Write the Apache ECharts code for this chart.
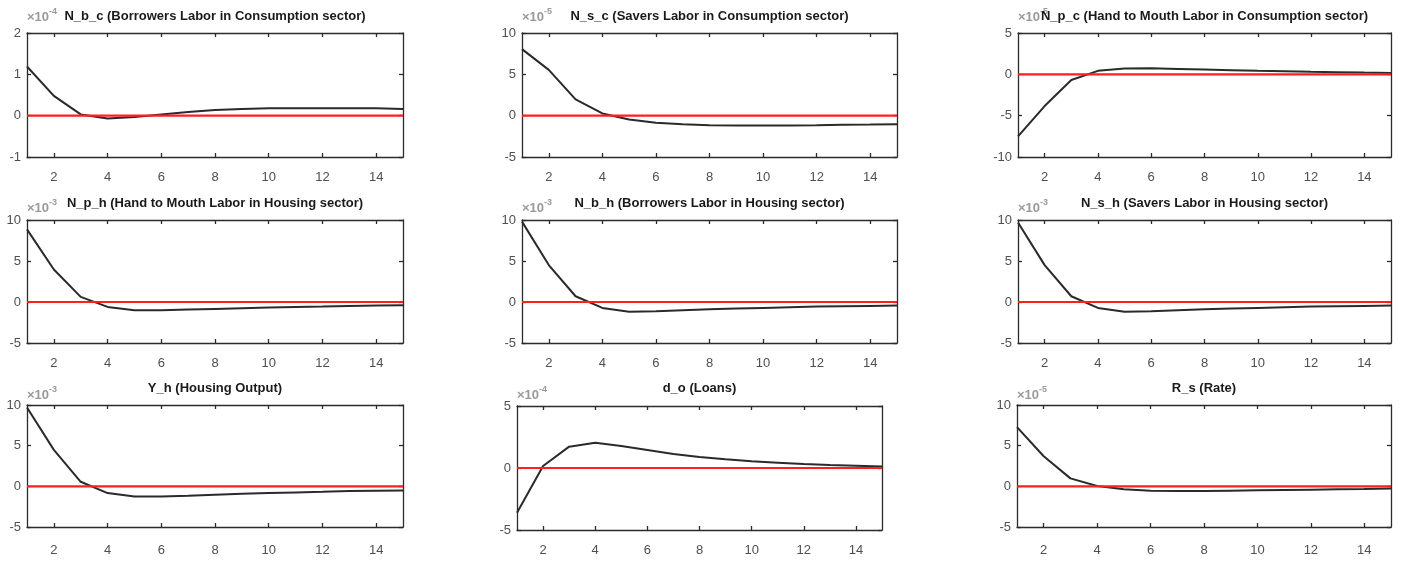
<!DOCTYPE html>
<html>
<head>
<meta charset="utf-8">
<title>Impulse responses</title>
<script src="https://cdn.jsdelivr.net/npm/echarts@6/dist/echarts.min.js"></script>
<style>
  html, body { margin: 0; padding: 0; background: #fff; }
  #chart { width: 1404px; height: 561px; }
</style>
</head>
<body>
<div id="chart"></div>
<script>
// Horizon (periods after the shock)
const periods = [1, 2, 3, 4, 5, 6, 7, 8, 9, 10, 11, 12, 13, 14, 15];
const xTickValues = [2, 4, 6, 8, 10, 12, 14];

// Impulse responses, in units of the panel's power-of-ten factor
const N_b_c = [1.19, 0.48, 0.03, -0.07, -0.03, 0.03, 0.09, 0.14, 0.16, 0.18, 0.18, 0.18, 0.18, 0.18, 0.16];
const N_s_c = [8.05, 5.54, 1.97, 0.27, -0.46, -0.86, -1.03, -1.15, -1.19, -1.19, -1.19, -1.15, -1.10, -1.07, -1.03];
const N_p_c = [-7.5, -3.84, -0.68, 0.42, 0.70, 0.74, 0.66, 0.58, 0.50, 0.42, 0.38, 0.30, 0.26, 0.21, 0.17];
const N_p_h = [8.86, 3.97, 0.62, -0.60, -1.00, -1.00, -0.92, -0.84, -0.76, -0.68, -0.60, -0.56, -0.48, -0.44, -0.40];
const N_b_h = [9.8, 4.5, 0.70, -0.72, -1.20, -1.13, -1.00, -0.88, -0.80, -0.72, -0.64, -0.56, -0.52, -0.48, -0.44];
const N_s_h = [9.7, 4.5, 0.70, -0.72, -1.20, -1.13, -1.00, -0.88, -0.80, -0.72, -0.64, -0.56, -0.52, -0.48, -0.44];
const Y_h   = [9.7, 4.48, 0.56, -0.83, -1.24, -1.24, -1.16, -1.03, -0.91, -0.83, -0.75, -0.67, -0.58, -0.54, -0.50];
const d_o   = [-3.6, 0.16, 1.72, 2.04, 1.77, 1.45, 1.13, 0.89, 0.70, 0.54, 0.43, 0.32, 0.24, 0.19, 0.13];
const R_s   = [7.28, 3.70, 0.98, 0.04, -0.37, -0.53, -0.57, -0.57, -0.53, -0.49, -0.45, -0.41, -0.37, -0.33, -0.28];

// Panel titles, power-of-ten exponents and y-axis ranges [min, max, step]
const panelTitles = [
  'N_b_c (Borrowers Labor in Consumption sector)',
  'N_s_c (Savers Labor in Consumption sector)',
  'N_p_c (Hand to Mouth Labor in Consumption sector)',
  'N_p_h (Hand to Mouth Labor in Housing sector)',
  'N_b_h (Borrowers Labor in Housing sector)',
  'N_s_h (Savers Labor in Housing sector)',
  'Y_h (Housing Output)',
  'd_o (Loans)',
  'R_s (Rate)'
];
const exponents = [-4, -5, -5, -3, -3, -3, -3, -4, -5];
const yRanges = [
  [-1, 2, 1], [-5, 10, 5], [-10, 5, 5],
  [-5, 10, 5], [-5, 10, 5], [-5, 10, 5],
  [-5, 10, 5], [-5, 5, 5], [-5, 10, 5]
];
const responses = [N_b_c, N_s_c, N_p_c, N_p_h, N_b_h, N_s_h, Y_h, d_o, R_s];
const zeroLine = periods.map(() => 0);

// Plot boxes in pixels: left, top, width, height
const boxes = [
  [27, 33, 376, 124], [522, 33, 375, 124], [1018, 33, 373, 124],
  [27, 220, 376, 123], [522, 220, 375, 123], [1018, 220, 373, 123],
  [27, 405, 376, 122], [517, 406, 365, 124], [1017, 405, 374, 122]
];
const titleCenters = [18, 205, 390];
const expCenters = [16, 207, 394];

const FONT = '"Liberation Sans", Arial, Helvetica, sans-serif';
const axisColor = '#2b2b2b';
const labelColor = '#4f4f4f';

const grid = [], xAxis = [], yAxis = [], series = [], title = [];

boxes.forEach((b, i) => {
  const [l, t, w, h] = b;
  const row = Math.floor(i / 3);
  grid.push({ left: l, top: t, width: w, height: h, containLabel: false });

  const lineStyle = { color: axisColor, width: 1.3 };
  const xLabelMargin = row === 2 ? (i === 7 ? 14 : 17) : 14;
  // bottom x axis with labels
  xAxis.push({
    type: 'value', gridIndex: i, min: 1, max: 15, position: 'bottom',
    axisLine: { show: true, onZero: false, lineStyle },
    axisTick: { show: true, inside: true, length: 4, customValues: xTickValues, lineStyle },
    axisLabel: { show: true, customValues: xTickValues, margin: xLabelMargin, color: labelColor, fontSize: 13, fontFamily: FONT },
    splitLine: { show: false }
  });
  // top x axis, ticks only (closes the box)
  xAxis.push({
    type: 'value', gridIndex: i, min: 1, max: 15, position: 'top',
    axisLine: { show: true, onZero: false, lineStyle },
    axisTick: { show: true, inside: true, length: 4, customValues: xTickValues, lineStyle },
    axisLabel: { show: false },
    splitLine: { show: false }
  });
  const [ymin, ymax, step] = yRanges[i];
  yAxis.push({
    type: 'value', gridIndex: i, min: ymin, max: ymax, interval: step, position: 'left',
    axisLine: { show: true, onZero: false, lineStyle },
    axisTick: { show: true, inside: true, length: 4, lineStyle },
    axisLabel: { show: true, margin: 6, color: labelColor, fontSize: 13, fontFamily: FONT },
    splitLine: { show: false }
  });
  yAxis.push({
    type: 'value', gridIndex: i, min: ymin, max: ymax, interval: step, position: 'right',
    axisLine: { show: true, onZero: false, lineStyle },
    axisTick: { show: true, inside: true, length: 4, lineStyle },
    axisLabel: { show: false },
    splitLine: { show: false }
  });

  // response path
  series.push({
    type: 'line', xAxisIndex: 2 * i, yAxisIndex: 2 * i,
    data: periods.map((p, k) => [p, responses[i][k]]),
    showSymbol: false, symbol: 'none', silent: true,
    lineStyle: { color: '#2a2a2a', width: 2 }, z: 2
  });
  // zero reference line
  series.push({
    type: 'line', xAxisIndex: 2 * i, yAxisIndex: 2 * i,
    data: periods.map((p, k) => [p, zeroLine[k]]),
    showSymbol: false, symbol: 'none', silent: true,
    lineStyle: { color: '#ff1f1f', width: 2.2 }, z: 3
  });

  // power-of-ten factor above the y axis
  title.push({
    text: '{a|×10}{b|' + exponents[i] + '}',
    left: l, top: expCenters[row] - 9,
    textStyle: {
      rich: {
        a: { fontSize: 13, color: '#9a9a9a', fontFamily: FONT, padding: [4, 0, 0, 0] },
        b: { fontSize: 9, color: '#9a9a9a', fontFamily: FONT, padding: [0, 0, 7, 0] }
      }
    },
    padding: 0, z: 1
  });
});

// panel titles centred over each box
boxes.forEach((b, i) => {
  const [l, t, w] = b;
  const row = Math.floor(i / 3);
  title.push({
    text: panelTitles[i],
    left: l + w / 2, textAlign: 'center',
    top: titleCenters[row] - 8,
    padding: 0,
    textStyle: { fontSize: 13, fontWeight: 'bold', color: '#1a1a1a', fontFamily: FONT },
    z: 5
  });
});

const chart = echarts.init(document.getElementById('chart'), null, { renderer: 'canvas' });
chart.setOption({
  backgroundColor: '#ffffff',
  animation: false,
  title, grid, xAxis, yAxis, series
});
</script>
</body>
</html>
